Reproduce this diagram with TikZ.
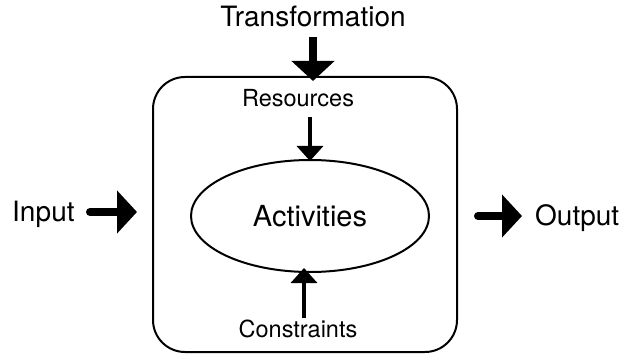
\documentclass[tikz,border=0pt]{standalone}
\usepackage{fontspec}
\setmainfont{TeX Gyre Heros}
\usetikzlibrary{arrows.meta,shapes.geometric}
\begin{document}
\begin{tikzpicture}[x=1pt,y=-1pt,
  bigtext/.style={font=\fontsize{28}{30}\selectfont, inner sep=0pt},
  midtext/.style={font=\fontsize{23.5}{26}\selectfont, inner sep=0pt},
  bigarrow/.style={line width=8pt, -{Triangle[width=42pt,length=20pt]}},
  smallarrow/.style={line width=3.5pt, -{Triangle[width=26pt,length=15pt]}},
  frame/.style={draw, line width=2pt, rounded corners=32pt, minimum width=304pt, minimum height=275pt, inner sep=0pt},
  actnode/.style={draw, ellipse, line width=2pt, minimum width=238pt, minimum height=112pt, inner sep=0pt, font=\fontsize{29}{31}\selectfont}
]
\useasboundingbox (0,0) rectangle (620,358);

\node[frame] (box) at (305,214.5) {};
\node[actnode] (act) at (310,216) {Activities};

\node[bigtext, anchor=base] (trans) at (313,27) {Transformation};
\node[midtext, anchor=base] (res) at (298,107) {Resources};
\node[midtext, anchor=base] (con) at (298,337) {Constraints};
\node[bigtext, anchor=base west] (in) at (12,221) {Input};
\node[bigtext, anchor=base west] (out) at (535,225) {Output};

\coordinate (tA) at (313,37);
\coordinate (rA) at (310,117);
\coordinate (cA) at (304,318);
\coordinate (iA) at (90,212);
\coordinate (oA) at (478,216);

\draw[bigarrow] (tA) -- ([yshift=-5pt]box.north -| tA);
\draw[smallarrow] (rA) -- ([yshift=-2pt]act.north -| rA);
\draw[smallarrow] (cA) -- ([yshift=5pt]act.south -| cA);
\draw[bigarrow, line cap=round] (iA) -- ([xshift=-15pt]box.west |- iA);
\draw[bigarrow, line cap=round] (oA) -- ([xshift=-13pt]out.west |- oA);
\end{tikzpicture}
\end{document}
